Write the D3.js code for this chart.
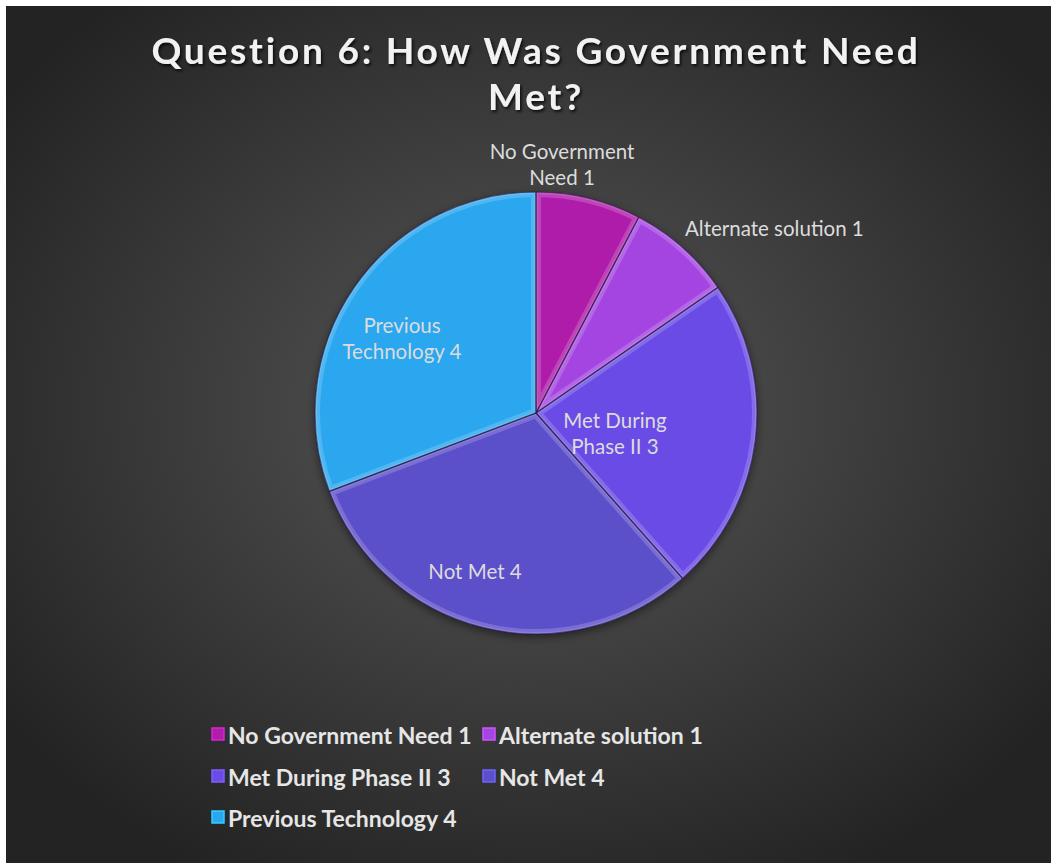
<!DOCTYPE html>
<html>
<head>
<meta charset="utf-8">
<script src="https://cdn.jsdelivr.net/npm/d3@7"></script>
<style>
  body { margin: 0; background: #fff; }
  svg { display: block; }
</style>
</head>
<body>
<div id="chart"></div>
<script>
// chart data
var categories = ["No Government Need", "Alternate solution", "Met During Phase II", "Not Met", "Previous Technology"];
var values = [1, 1, 3, 4, 4];
var colors = ["#b01daa", "#a445e2", "#6a4be6", "#5b4fca", "#2aa7ef"];
var titleLines = ["Question 6: How Was Government Need", "Met?"];

var W = 1051, H = 863;
var offset = 6; // white strip on top/left of the picture

var svg = d3.select("#chart")
  .append("svg")
  .attr("width", W)
  .attr("height", H);

var defs = svg.append("defs");

// radial background
var bg = defs.append("radialGradient")
  .attr("id", "bg")
  .attr("cx", "50%").attr("cy", "47%").attr("r", "62%");
bg.append("stop").attr("offset", "0%").attr("stop-color", "#585858");
bg.append("stop").attr("offset", "100%").attr("stop-color", "#232323");

var shadow = defs.append("filter").attr("id", "tshadow")
  .attr("x", "-10%").attr("y", "-30%").attr("width", "120%").attr("height", "160%");
shadow.append("feDropShadow")
  .attr("dx", 1.5).attr("dy", 2).attr("stdDeviation", 1.5)
  .attr("flood-color", "#000").attr("flood-opacity", 0.8);

var pshadow = defs.append("filter").attr("id", "pshadow")
  .attr("x", "-20%").attr("y", "-20%").attr("width", "140%").attr("height", "140%");
pshadow.append("feDropShadow")
  .attr("dx", 0).attr("dy", 3).attr("stdDeviation", 5)
  .attr("flood-color", "#000").attr("flood-opacity", 0.5);

svg.append("rect")
  .attr("x", offset).attr("y", offset)
  .attr("width", W - offset).attr("height", H - offset)
  .attr("fill", "url(#bg)");

// title
svg.append("g")
  .attr("filter", "url(#tshadow)")
  .selectAll("text")
  .data(titleLines)
  .join("text")
    .attr("x", 536)
    .attr("y", (d, i) => 64 + i * 46)
    .attr("text-anchor", "middle")
    .attr("fill", "#f2f2f2")
    .style("font-family", "Lato, 'Open Sans', sans-serif")
    .style("font-weight", "bold")
    .style("font-size", "37px")
    .style("letter-spacing", "2.8px")
    .text(d => d);

// pie
var cx = 536, cy = 413, radius = 221;

var pie = d3.pie().sort(null).value(d => d)(values);
var arc = d3.arc().innerRadius(0).outerRadius(radius);

var g = svg.append("g")
  .attr("transform", "translate(" + cx + "," + cy + ")");

var slices = g.append("g").attr("filter", "url(#pshadow)");

pie.forEach(function(p, i) {
  defs.append("clipPath")
    .attr("id", "clip" + i)
    .append("path")
    .attr("d", arc(p));
});

slices.selectAll("path.slice")
  .data(pie)
  .join("path")
    .attr("class", "slice")
    .attr("d", arc)
    .attr("fill", (d, i) => colors[i]);

// bevel highlight inside each slice
g.selectAll("path.bevel")
  .data(pie)
  .join("path")
    .attr("class", "bevel")
    .attr("d", arc)
    .attr("clip-path", (d, i) => "url(#clip" + i + ")")
    .attr("fill", "none")
    .attr("stroke", "rgba(255,255,255,0.18)")
    .attr("stroke-width", 10);

g.selectAll("path.bevel2")
  .data(pie)
  .join("path")
    .attr("class", "bevel2")
    .attr("d", arc)
    .attr("clip-path", (d, i) => "url(#clip" + i + ")")
    .attr("fill", "none")
    .attr("stroke", "rgba(255,255,255,0.12)")
    .attr("stroke-width", 4);

g.selectAll("path.edge")
  .data(pie)
  .join("path")
    .attr("class", "edge")
    .attr("d", arc)
    .attr("fill", "none")
    .attr("stroke", "rgba(40,20,70,0.6)")
    .attr("stroke-width", 1.2);

// data labels
var labelPos = [
  {x: 562, y: 159, lines: ["No Government", "Need 1"], anchor: "middle"},
  {x: 685, y: 236, lines: ["Alternate solution 1"], anchor: "start"},
  {x: 615, y: 428, lines: ["Met During", "Phase II 3"], anchor: "middle"},
  {x: 475, y: 579, lines: ["Not Met 4"], anchor: "middle"},
  {x: 402, y: 333, lines: ["Previous", "Technology 4"], anchor: "middle"}
];

var labels = svg.append("g")
  .style("font-family", "Lato, 'Open Sans', sans-serif")
  .style("font-size", "20.5px")
  .attr("fill", "#dcdcdc");

labelPos.forEach(function(l) {
  var t = labels.append("text")
    .attr("x", l.x).attr("y", l.y)
    .attr("text-anchor", l.anchor);
  l.lines.forEach(function(s, k) {
    t.append("tspan")
      .attr("x", l.x)
      .attr("dy", k === 0 ? 0 : 26)
      .text(s);
  });
});

// legend
var legendPos = [
  {x: 212, y: 735}, {x: 483, y: 735},
  {x: 212, y: 777}, {x: 483, y: 777},
  {x: 212, y: 818}
];

var legend = svg.append("g").selectAll("g")
  .data(categories)
  .join("g")
    .attr("transform", (d, i) => "translate(" + legendPos[i].x + "," + legendPos[i].y + ")");

legend.append("rect")
  .attr("x", 0).attr("y", -7)
  .attr("width", 12).attr("height", 12)
  .attr("fill", (d, i) => colors[i])
  .attr("stroke", (d, i) => d3.color(colors[i]).brighter(0.6))
  .attr("stroke-width", 1.5);

legend.append("text")
  .attr("x", 16)
  .attr("y", 8.5)
  .attr("fill", "#e6e6e6")
  .style("font-family", "Lato, 'Open Sans', sans-serif")
  .style("font-weight", "bold")
  .style("font-size", "23px")
  .text((d, i) => d + " " + values[i]);
</script>
</body>
</html>
